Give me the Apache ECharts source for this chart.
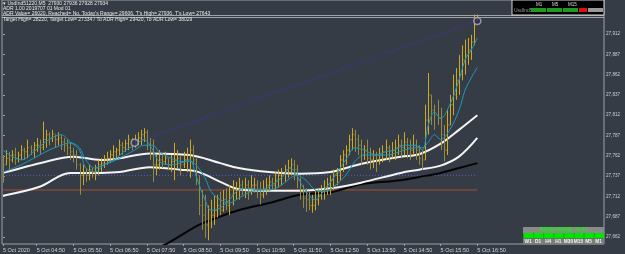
<!DOCTYPE html>
<html><head><meta charset="utf-8">
<script src="https://cdn.jsdelivr.net/npm/echarts@6/dist/echarts.min.js"></script>
<style>html,body{margin:0;padding:0;background:#363c45;}#c{width:625px;height:254px;}</style>
</head><body><div id="c"></div>
<script>
// ---- tick labels ----
const timeLabels = ['5 Oct 2020','5 Oct 04:50','5 Oct 05:50','5 Oct 06:50','5 Oct 07:50','5 Oct 08:50','5 Oct 09:50','5 Oct 10:50','5 Oct 11:50','5 Oct 12:50','5 Oct 13:50','5 Oct 14:50','5 Oct 15:50','5 Oct 16:50'];
const timeLabelIdx = [0,11,23,35,47,59,71,83,95,107,119,131,143,155];
const priceTicks = [27912,27887,27862,27837,27812,27787,27762,27737,27712,27687,27662];

// ---- OHLC bars (M5) ----
const opens = [27757,27751,27759,27757,27763,27759,27763,27769,27767,27772,
27769,27775,27775,27772,27782,27788,27784,27789,27782,27784,
27779,27775,27772,27767,27763,27751,27738,27742,27738,27745,
27742,27747,27751,27753,27757,27759,27763,27767,27769,27775,
27772,27777,27782,27779,27782,27784,27788,27791,27775,27767,
27751,27751,27757,27755,27759,27751,27755,27757,27759,27751,
27757,27763,27769,27757,27732,27701,27689,27677,27683,27689,
27695,27701,27695,27708,27701,27714,27720,27720,27726,27722,
27726,27720,27726,27726,27720,27714,27722,27726,27730,27726,
27732,27738,27742,27745,27747,27751,27745,27732,27720,27710,
27708,27701,27701,27708,27714,27718,27722,27726,27732,27738,
27742,27757,27763,27769,27782,27788,27782,27775,27763,27769,
27759,27757,27763,27757,27763,27767,27772,27763,27769,27772,
27775,27772,27779,27772,27769,27775,27769,27759,27757,27806,
27837,27818,27812,27809,27788,27769,27800,27825,27837,27855,
27862,27880,27886,27892,27902,27930];
const closes = [27751,27759,27757,27763,27759,27763,27769,27767,27772,27769,
27775,27775,27772,27782,27788,27784,27789,27782,27784,27779,
27775,27772,27767,27763,27751,27738,27742,27738,27745,27742,
27747,27751,27753,27757,27759,27763,27767,27769,27775,27772,
27777,27782,27779,27782,27784,27788,27791,27775,27767,27751,
27751,27757,27755,27759,27751,27755,27757,27759,27751,27757,
27763,27769,27757,27732,27701,27689,27677,27683,27689,27695,
27701,27695,27708,27701,27714,27720,27720,27726,27722,27726,
27720,27726,27726,27720,27714,27722,27726,27730,27726,27732,
27738,27742,27745,27747,27751,27745,27732,27720,27710,27708,
27701,27701,27708,27714,27718,27722,27726,27732,27738,27742,
27757,27763,27769,27782,27788,27782,27775,27763,27769,27759,
27757,27763,27757,27763,27767,27772,27763,27769,27772,27775,
27772,27779,27772,27769,27775,27769,27759,27757,27806,27837,
27818,27812,27809,27788,27769,27800,27825,27837,27855,27862,
27880,27886,27892,27902,27923,27934];
const highs = [27763,27769,27767,27769,27772,27767,27775,27772,27782,27775,
27779,27784,27782,27804,27794,27791,27794,27788,27791,27788,
27784,27782,27779,27772,27769,27753,27751,27747,27751,27747,
27751,27757,27759,27763,27767,27769,27775,27772,27782,27779,
27782,27788,27784,27788,27791,27794,27796,27794,27784,27782,
27763,27769,27763,27767,27759,27763,27778,27769,27763,27767,
27772,27782,27775,27759,27738,27720,27714,27701,27708,27714,
27714,27718,27720,27722,27726,27732,27730,27735,27732,27735,
27732,27738,27735,27732,27730,27732,27735,27738,27735,27742,
27745,27747,27751,27757,27759,27757,27751,27735,27726,27722,
27718,27714,27720,27722,27726,27732,27735,27738,27745,27747,
27763,27769,27775,27788,27796,27794,27788,27782,27775,27782,
27772,27769,27767,27772,27775,27782,27775,27779,27782,27788,
27782,27791,27784,27782,27788,27782,27775,27769,27825,27864,
27837,27825,27831,27821,27800,27818,27837,27862,27870,27886,
27898,27905,27907,27911,27936,27936];
const lows = [27729,27751,27745,27754,27751,27754,27757,27757,27759,27763,
27759,27767,27763,27769,27772,27775,27779,27772,27775,27769,
27767,27763,27757,27754,27745,27714,27726,27730,27732,27735,
27732,27738,27742,27747,27751,27753,27757,27759,27763,27763,
27767,27769,27769,27772,27775,27775,27779,27769,27757,27730,
27738,27745,27747,27751,27745,27742,27732,27747,27738,27747,
27742,27735,27751,27726,27689,27671,27661,27658,27673,27677,
27686,27689,27693,27695,27689,27701,27708,27708,27714,27710,
27708,27714,27717,27710,27702,27710,27714,27718,27720,27720,
27723,27726,27730,27735,27738,27732,27722,27708,27698,27693,
27695,27692,27695,27701,27708,27708,27714,27714,27720,27726,
27732,27742,27751,27763,27769,27767,27763,27751,27757,27751,
27745,27747,27742,27751,27754,27757,27754,27759,27757,27763,
27759,27763,27759,27757,27763,27757,27751,27745,27757,27788,
27800,27794,27800,27769,27755,27763,27800,27812,27831,27837,
27855,27862,27874,27880,27898,27928];

// ---- indicator lines (read at sampled bars) ----
const fastMaIdx = [0,6,10,15,19,22,25,27,30,33,37,40,43,46,49,51,55,58,61,63,66,68,71,74,77,81,84,87,91,94,96,99,102,105,108,112,115,118,122,125,128,131,135,137,139,141,143,146,149,151,153,155];
const fastMaVal = [27769,27757,27767,27782,27788,27779,27769,27747,27742,27751,27759,27769,27775,27782,27769,27755,27751,27753,27757,27738,27708,27695,27698,27708,27720,27722,27720,27724,27735,27747,27738,27718,27708,27720,27735,27757,27772,27769,27763,27767,27769,27775,27775,27769,27800,27816,27808,27825,27855,27880,27892,27907];
const slowMaVal = [27742,27751,27759,27769,27775,27778,27772,27757,27747,27751,27757,27763,27769,27775,27775,27767,27759,27755,27755,27751,27735,27718,27708,27704,27710,27718,27720,27720,27726,27735,27738,27732,27720,27718,27724,27738,27755,27763,27763,27763,27765,27769,27772,27772,27779,27788,27782,27794,27818,27843,27858,27871];
const upperWhiteIdx = [0,6,12,23,32,38,48,61,71,77,87,97,107,113,118,130,136,143,149,155];
const upperWhiteVal = [27741,27747,27753,27761,27757,27759,27765,27763,27753,27747,27742,27740,27742,27748,27753,27761,27764,27777,27794,27812];
const lowerWhiteIdx = [0,12,22,32,38,48,58,64,71,77,87,97,107,117,130,136,143,149,155];
const lowerWhiteVal = [27713,27724,27741,27741,27742,27748,27745,27742,27730,27721,27719,27719,27722,27729,27741,27745,27750,27761,27784];
const blackIdx = [48,54,64,68,77,87,97,107,117,130,136,143,149,155];
const blackVal = [27644,27655,27677,27683,27695,27704,27714,27717,27727,27732,27736,27741,27747,27753];

// ---- levels / objects ----
const dottedLevel = [27738];
const brownLevel = [27720];
const levelSpan = [0,155];
const trendIdx = [43,155];
const trendVal = [27778,27928];
const bidAsk = [27935,27932];
const lastPrice = 27934;

const barData = opens.map((o,i)=>[i,o,closes[i],lows[i],highs[i]]);
const zip = (a,b)=>a.map((v,i)=>[v,b[i]]);

function renderBar(params, api){
  const i = api.value(0);
  const o = api.coord([i, api.value(1)]);
  const c = api.coord([i, api.value(2)]);
  const l = api.coord([i, api.value(3)]);
  const h = api.coord([i, api.value(4)]);
  const x = Math.round(h[0]) + 0.5;
  const bull = api.value(2) >= api.value(1);
  const color = bull ? '#cfa81e' : '#958a3e';
  return {type:'group', children:[
    {type:'line', shape:{x1:x,y1:h[1],x2:x,y2:l[1]}, style:{stroke:color,lineWidth:1}},
    {type:'line', shape:{x1:x-1,y1:o[1],x2:x,y2:o[1]}, style:{stroke:color,lineWidth:1}},
    {type:'line', shape:{x1:x,y1:c[1],x2:x+1,y2:c[1]}, style:{stroke:color,lineWidth:1}}
  ]};
}

const FONT = 'Liberation Sans';
const chart = echarts.init(document.getElementById('c'), null, {renderer:'canvas'});
const lineSeries = (name, data, color, width, z) => ({
  name, type:'line', data, smooth:0.35, showSymbol:false, silent:true, z,
  lineStyle:{color, width}, clip:true
});

const topText = [
  '\u25BE UsdInd51220,M5  27930 27936 27928 27934',
  'ADR 1.00 2019707 01 Mod 01',
  "ADR Value= 26020, Reached= No, Today's Range= 29606, T's High= 27936, T's Low= 27643",
  'Target High= 28220, Target Low= 27334 / To ADR High= 29420, To ADR Low= 38029'
];
const tfLabels = ['W1','D1','H4','H1','M30','M15','M5','M1'];
const rsiText = 'RSI(2)+RSI(9): 74.91';

const graphic = [];
topText.forEach((t,k)=>graphic.push({type:'text', left:3, top:1+k*5.3, z:100,
  style:{text:t, fill:'#e6e6e6', font:'5px '+FONT}}));
// top-right panel
graphic.push({type:'rect', shape:{x:512,y:0,width:92,height:15}, style:{fill:'#000',stroke:'#cfcfcf',lineWidth:1}, z:100});
graphic.push({type:'text', x:514, y:8, style:{text:'UsdInd5', fill:'#9a9a9a', font:'5px '+FONT}, z:101});
['M1','M5','M15'].forEach((t,k)=>{
  graphic.push({type:'rect', shape:{x:531+k*16,y:8,width:15,height:4}, style:{fill:'#1f9b1f'}, z:101});
  graphic.push({type:'text', x:536+k*16, y:2, style:{text:t, fill:'#d8d8d8', font:'4.5px '+FONT}, z:101});
});
graphic.push({type:'rect', shape:{x:579,y:8,width:8,height:4}, style:{fill:'#e01010'}, z:101});
graphic.push({type:'rect', shape:{x:588,y:8,width:15,height:4}, style:{fill:'#9a9a9a'}, z:101});
// RSI panel
graphic.push({type:'rect', shape:{x:523,y:227,width:81,height:6}, style:{fill:'#8a8a8a'}, z:100});
graphic.push({type:'text', x:563.5, y:227.3, style:{text:rsiText, fill:'#00ff00', font:'bold 5px '+FONT, align:'center'}, z:101});
graphic.push({type:'rect', shape:{x:523,y:233,width:81,height:5.5}, style:{fill:'#00e600'}, z:100});
graphic.push({type:'rect', shape:{x:523,y:238.5,width:81,height:6}, style:{fill:'#7c7c7c'}, z:100});
tfLabels.forEach((t,k)=>{
  graphic.push({type:'line', shape:{x1:523+k*10.1+0.5,y1:233,x2:523+k*10.1+0.5,y2:238.5}, style:{stroke:'#18a818',lineWidth:1}, z:101});
  graphic.push({type:'text', x:528+k*10.1, y:239, style:{text:t, fill:'#f2f2f2', font:'bold 4.8px '+FONT, align:'center'}, z:101});
});

chart.setOption({
  backgroundColor:'#363c45',
  animation:false,
  grid:{left:2, right:21, top:0, bottom:10, show:true, borderColor:'#9aa0a8', borderWidth:1},
  xAxis:{type:'value', min:-0.33, max:196.4, splitLine:{show:false},
    axisLine:{show:false},
    axisTick:{show:true, length:2, lineStyle:{color:'#9aa0a8'}, customValues:timeLabelIdx},
    axisLabel:{customValues:timeLabelIdx, formatter:v=>timeLabels[timeLabelIdx.indexOf(v)],
      align:'left', color:'#d0d0d0', fontSize:5.5, fontFamily:FONT, margin:3}},
  yAxis:{type:'value', position:'right', min:27653.5, max:27953.8, splitLine:{show:false},
    axisLine:{show:false},
    axisTick:{show:true, length:2, lineStyle:{color:'#9aa0a8'}, customValues:priceTicks, inside:false},
    axisLabel:{customValues:priceTicks, color:'#d0d0d0', fontSize:4.6, fontFamily:FONT, margin:2}},
  graphic,
  series:[
    {type:'line', data:zip(levelSpan, levelSpan.map(()=>brownLevel[0])), showSymbol:false, silent:true, z:1,
      lineStyle:{color:'#a2522e', width:1}},
    {type:'line', data:zip(levelSpan, levelSpan.map(()=>dottedLevel[0])), showSymbol:false, silent:true, z:1,
      lineStyle:{color:'#5a5ad0', width:1, type:[1,2]}},
    {type:'line', data:[], silent:true, z:1,
      markLine:{symbol:'none', silent:true,
        lineStyle:{color:'#9ea3aa', width:1, type:'solid'},
        label:{show:false},
        data:bidAsk.map(v=>({yAxis:v}))}},
    {type:'line', data:[], silent:true, z:5,
      markLine:{symbol:'none', silent:true, lineStyle:{opacity:0},
        label:{show:true, position:'end', distance:1, formatter:String(lastPrice), color:'#000',
          backgroundColor:'#ffffff', fontSize:4.6, fontFamily:FONT, padding:[1,1,0,1]},
        data:[{yAxis:lastPrice}]}},
    {type:'line', data:zip(trendIdx,trendVal), showSymbol:false, silent:true, z:2,
      lineStyle:{color:'#3434b8', width:1, type:[2,2]}},
    lineSeries('black', zip(blackIdx, blackVal), '#050505', 2, 3),
    lineSeries('lowerWhite', zip(lowerWhiteIdx, lowerWhiteVal), '#f4f4f4', 2, 3),
    lineSeries('upperWhite', zip(upperWhiteIdx, upperWhiteVal), '#f4f4f4', 2, 3),
    {type:'custom', renderItem:renderBar, data:barData, encode:{x:0, y:[1,2,3,4]}, z:4, silent:true},
    lineSeries('slowMa', zip(fastMaIdx, slowMaVal), '#1f96bd', 1, 5),
    lineSeries('fastMa', zip(fastMaIdx, fastMaVal), '#1f96bd', 1, 5),
    {type:'scatter', data:zip(trendIdx,trendVal), symbol:'circle', symbolSize:7, silent:true, z:6,
      itemStyle:{color:'#2b3060', borderColor:'#b0b0b0', borderWidth:1.5}}
  ]
});
</script></body></html>
